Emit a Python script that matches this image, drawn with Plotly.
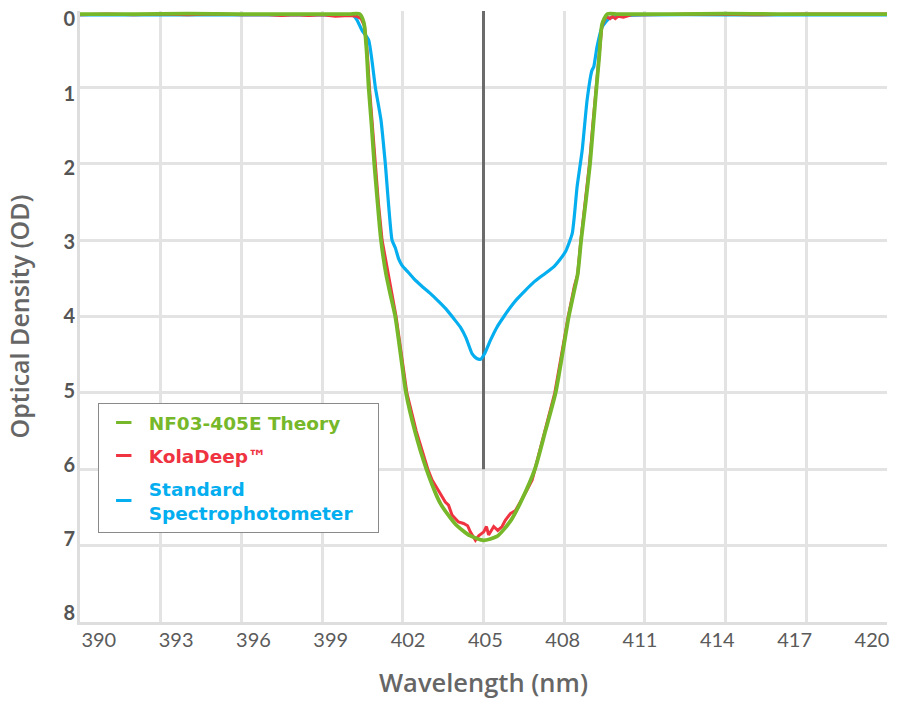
import plotly.graph_objects as go

# ---- data ----
theory_nm = [390.0, 392.0, 394.0, 396.0, 398.0, 400.0, 400.4, 400.55, 400.65, 400.73, 400.84, 400.94,
             401.06, 401.19, 401.38, 401.55, 401.72, 401.92, 402.12, 402.45, 402.88, 403.4, 403.96,
             404.5, 405.0, 405.5, 406.0, 406.37, 406.91, 407.3, 407.68, 407.93, 408.17, 408.35,
             408.5, 408.63, 408.8, 408.96, 409.08, 409.2, 409.3, 409.41, 409.6, 410.0, 412.0,
             414.0, 416.0, 418.0, 420.0]
theory_od = [0.04, 0.04, 0.035, 0.04, 0.04, 0.04, 0.04, 0.15, 0.5, 1.0, 1.5, 2.0,
             2.5, 3.0, 3.45, 3.73, 4.0, 4.5, 5.0, 5.5, 6.0, 6.45, 6.72,
             6.87, 6.93, 6.88, 6.68, 6.44, 6.0, 5.5, 5.0, 4.5, 4.0, 3.7,
             3.45, 3.0, 2.5, 2.0, 1.5, 1.0, 0.6, 0.17, 0.04, 0.04, 0.04,
             0.035, 0.04, 0.04, 0.04]

kola_nm = [390.0, 391.0, 392.0, 393.0, 394.0, 395.0, 396.0, 397.0, 397.5, 398.0, 398.5, 399.0,
           399.5, 400.0, 400.3, 400.45, 400.58, 400.68, 400.76, 400.87, 400.97, 401.09, 401.23,
           401.43, 401.75, 401.95, 402.15, 402.5, 402.93, 403.09, 403.4, 403.58, 403.7, 403.83,
           404.07, 404.26, 404.41, 404.51, 404.7, 404.82, 405.01, 405.11, 405.19, 405.38, 405.53,
           405.69, 405.81, 406.0, 406.19, 406.37, 406.62, 406.81, 406.95, 407.3, 407.65, 407.9,
           408.15, 408.38, 408.5, 408.62, 408.78, 408.94, 409.06, 409.18, 409.28, 409.4, 409.55,
           409.7, 409.8, 409.9, 410.0, 410.2, 410.5, 411.0, 413.0, 415.0, 417.0, 420.0]
kola_od = [0.05, 0.04, 0.05, 0.04, 0.05, 0.04, 0.05, 0.05, 0.06, 0.05, 0.06, 0.05,
           0.07, 0.06, 0.07, 0.1, 0.2, 0.55, 1.0, 1.5, 2.0, 2.5, 3.0,
           3.4, 4.0, 4.5, 5.0, 5.5, 6.0, 6.14, 6.32, 6.43, 6.47, 6.6,
           6.69, 6.71, 6.74, 6.82, 6.93, 6.87, 6.82, 6.75, 6.86, 6.75, 6.8,
           6.75, 6.67, 6.58, 6.54, 6.43, 6.27, 6.14, 5.95, 5.45, 5.0, 4.5,
           4.0, 3.6, 3.45, 3.0, 2.5, 2.0, 1.5, 1.0, 0.6, 0.2, 0.07,
           0.1, 0.07, 0.1, 0.07, 0.08, 0.05, 0.05, 0.04, 0.05, 0.04, 0.04]

spectro_nm = [390.0, 393.0, 396.0, 399.0, 400.0, 400.17, 400.3, 400.48, 400.73, 400.98, 401.19,
              401.35, 401.6, 401.72, 401.85, 401.97, 402.2, 402.4, 402.7, 403.03, 403.35, 403.65,
              403.9, 404.14, 404.35, 404.58, 404.75, 404.89, 405.05, 405.26, 405.5, 405.76, 406.0,
              406.25, 406.55, 406.87, 407.2, 407.61, 407.85, 408.05, 408.3, 408.48, 408.67, 408.85,
              409.03, 409.1, 409.22, 409.41, 409.66, 410.1, 411.0, 414.0, 417.0, 420.0]
spectro_od = [0.05, 0.05, 0.05, 0.05, 0.05, 0.06, 0.12, 0.25, 0.38, 1.0, 1.43,
              2.0, 3.0, 3.1, 3.25, 3.33, 3.42, 3.5, 3.6, 3.7, 3.81, 3.92,
              4.03, 4.14, 4.28, 4.49, 4.55, 4.56, 4.48, 4.31, 4.14, 4.0, 3.88,
              3.77, 3.66, 3.55, 3.46, 3.35, 3.25, 3.15, 2.91, 2.3, 1.82, 1.17,
              0.78, 0.73, 0.47, 0.21, 0.1, 0.06, 0.05, 0.05, 0.05, 0.05]

center_nm = [405, 405]
center_od = [0, 6]

x_ticks = [390, 393, 396, 399, 402, 405, 408, 411, 414, 417, 420]
y_ticks = [0, 1, 2, 3, 4, 5, 6, 7, 8]
x_ticklabels = [str(v) for v in x_ticks]
y_ticklabels = [str(v) for v in y_ticks]

names = ["NF03-405E Theory", "KolaDeep™", "Standard<br>Spectrophotometer&nbsp;&nbsp;&nbsp;"]
colors = ["#77b82a", "#ef3340", "#05aeef"]

# In the reference the tick labels are spread slightly inside the grid
# (first/last labels pulled inward); place them on overlay axes.
x_label_pos = [390.7 + k * 2.874 for k in range(len(x_ticks))]
y_label_pos = [0.11 + k * 0.972 for k in range(len(y_ticks))]

FONT = "Lato"
TITLE_FONT = "Open Sans"
LEGEND_FONT = "DejaVu Sans"

fig = go.Figure()

fig.add_trace(go.Scatter(x=center_nm, y=center_od, mode="lines",
                         line=dict(color="#6b6b6b", width=3),
                         showlegend=False, hoverinfo="skip"))
fig.add_trace(go.Scatter(x=spectro_nm, y=spectro_od, mode="lines",
                         line=dict(color=colors[2], width=3.2, shape="spline", smoothing=0.5),
                         showlegend=False, name="Standard Spectrophotometer"))
fig.add_trace(go.Scatter(x=kola_nm, y=kola_od, mode="lines",
                         line=dict(color=colors[1], width=3, shape="linear"),
                         showlegend=False, name="KolaDeep™"))
fig.add_trace(go.Scatter(x=theory_nm, y=theory_od, mode="lines",
                         line=dict(color=colors[0], width=3.8, shape="spline", smoothing=0.6),
                         showlegend=False, name="NF03-405E Theory"))

# legend entries (short dash symbols, coloured text)
for i, (nm_, col) in enumerate(zip(names, colors)):
    fig.add_trace(go.Scatter(x=[None], y=[None], mode="markers",
                             name=f"<span style='color:{col}'>{nm_}</span>",
                             legendgroup=f"g{i}",
                             marker=dict(symbol="line-ew-open", size=11, color=col,
                                         line=dict(color=col, width=3)),
                             showlegend=True))

# invisible trace that carries the label axes
fig.add_trace(go.Scatter(x=[None], y=[None], xaxis="x2", yaxis="y2",
                         showlegend=False, hoverinfo="skip"))

fig.update_layout(
    width=898, height=703,
    margin=dict(l=80, r=11, t=11, b=81, autoexpand=False),
    paper_bgcolor="white", plot_bgcolor="white",
    font=dict(family=FONT, color="#5b5b5b"),
    showlegend=True,
    legend=dict(x=0.022, y=0.3585, xanchor="left", yanchor="top",
                bgcolor="white", bordercolor="#8a8a8a", borderwidth=1,
                font=dict(family=LEGEND_FONT, size=18.5, weight="bold"),
                itemwidth=40, tracegroupgap=6),
    xaxis=dict(range=[390, 420], tickvals=x_ticks, showticklabels=False,
               showgrid=True, gridcolor="#e3e3e3", gridwidth=2.5,
               showline=True, linecolor="#dedede", linewidth=3,
               zeroline=False, ticks="", automargin=False),
    yaxis=dict(range=[8, 0], tickvals=y_ticks, showticklabels=False,
               showgrid=True, gridcolor="#e3e3e3", gridwidth=2.5,
               showline=True, linecolor="#dedede", linewidth=3,
               zeroline=False, ticks="", automargin=False),
    xaxis2=dict(overlaying="x", anchor="y", side="bottom", range=[390, 420],
                tickvals=x_label_pos, ticktext=x_ticklabels,
                showgrid=False, showline=False, zeroline=False, ticks="",
                ticklabelstandoff=4, automargin=False,
                tickfont=dict(family="Lato", size=20, color="#5b5b5b", weight=400),
                title=dict(text="Wavelength (nm)", standoff=24,
                           font=dict(family=TITLE_FONT, size=25.5, color="#666666", weight=600))),
    yaxis2=dict(overlaying="y", anchor="x", side="left", range=[8, 0],
                tickvals=y_label_pos, ticktext=y_ticklabels,
                showgrid=False, showline=False, zeroline=False, ticks="",
                ticklabelstandoff=4, automargin=False,
                tickfont=dict(family="Lato", size=20, color="#555555", weight=700),
                title=dict(text="Optical Density (OD)", standoff=26,
                           font=dict(family=TITLE_FONT, size=25, color="#666666", weight=600))),
)

fig.write_html("out.html", config={"displayModeBar": False},
               post_script="document.body.style.margin='0';document.body.style.padding='0';")
